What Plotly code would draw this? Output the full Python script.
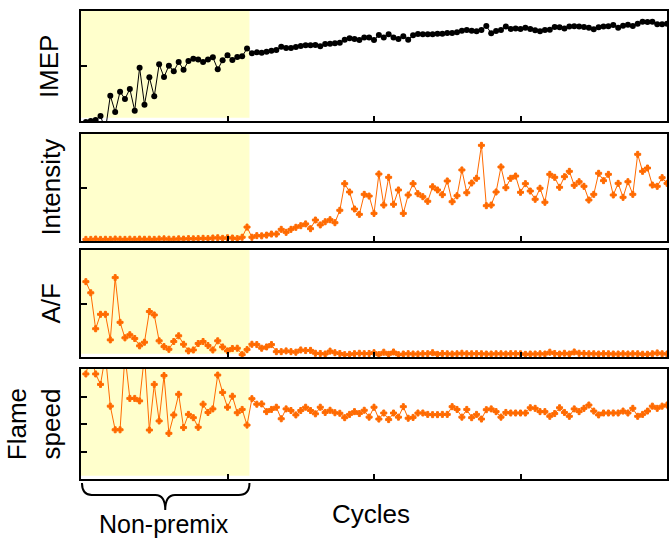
import plotly.graph_objects as go

# ---------------- data ----------------
cycles = list(range(1, 121))
nonpremix_end = 34.5
x_ticks = [30, 60, 90]

imep = [-0.1, 0.0, 0.1, 0.45, -0.8,
        2.30, 0.82, 2.67, 2.0, 2.91, 0.94, 4.85, 1.48, 3.97, 2.24, 5.15, 4.0, 5.03, 4.52, 5.36,
        4.67, 5.45, 5.67, 5.6, 5.36, 5.6, 5.79, 4.7, 5.52, 5.97, 5.55, 5.82, 5.88, 6.58,
        6.15, 6.24, 6.21, 6.3, 6.39, 6.45, 6.76, 6.64, 6.64, 6.73, 6.82, 6.88, 6.88, 6.9, 6.79,
        7.0, 7.03, 7.06, 7.12, 7.39, 7.52, 7.45, 7.36, 7.58, 7.58, 7.36, 7.82, 7.58, 7.88, 7.58,
        7.45, 7.7, 7.39, 7.79, 7.91, 7.88, 7.88, 7.88, 7.94, 7.94, 8.0, 8.0, 8.06, 8.21,
        8.27, 8.21, 8.15, 8.27, 8.64, 7.97, 8.18, 8.27, 8.58, 8.36, 8.42, 8.36, 8.48, 8.36,
        8.24, 8.15, 8.27, 8.3, 8.55, 8.52, 8.42, 8.58, 8.61, 8.58, 8.55, 8.48, 8.33, 8.52,
        8.58, 8.61, 8.73, 8.48, 8.67, 8.76, 8.64, 8.85, 9.03, 8.99, 9.03, 8.79, 8.79, 8.85]

intensity = [0.15, 0.15, 0.18, 0.15, 0.16, 0.15, 0.18, 0.16, 0.15, 0.17, 0.15, 0.18, 0.16, 0.17,
             0.15, 0.18, 0.2, 0.17, 0.16, 0.2, 0.18, 0.22, 0.2, 0.22, 0.25, 0.22, 0.28, 0.3, 0.25,
             0.3, 0.28, 0.22, 0.35, 1.3,
             0.35, 0.5, 0.48, 0.55, 0.65, 0.65, 1.09, 0.81, 1.09, 1.28, 1.43, 1.6, 1.15, 1.96, 1.5, 1.8,
             1.99, 1.71, 2.87, 5.36, 4.58, 2.99, 2.49, 4.36, 4.2, 2.58, 6.26, 3.36, 5.95, 3.43, 4.77,
             2.58, 4.3, 5.36, 4.42, 4.14, 3.71, 5.07, 4.77, 4.33, 5.61, 3.67, 4.23, 6.64, 4.51, 5.42,
             5.86, 8.94, 3.3, 3.36, 4.58, 6.92, 4.98, 5.86, 6.07, 4.55, 5.36, 4.67, 3.9, 4.93, 3.62,
             6.23, 5.95, 5.02, 6.01, 6.51, 5.2, 5.54, 5.11, 3.83, 4.36, 6.33, 5.64, 6.23, 4.3, 5.39,
             4.08, 5.54, 4.36, 8.1, 6.51, 6.82, 5.23, 5.11, 5.92, 5.39]

air_fuel = [7.04, 6.0, 2.64, 3.99, 3.99, 1.6, 7.42, 3.24, 1.79, 2.08, 1.73, 1.04, 1.38, 4.25, 3.93,
            1.51, 0.97, 0.72, 1.45, 1.98, 1.19, 0.57, 0.66, 1.26, 1.45, 1.07, 0.66, 1.51, 0.94, 0.57,
            0.79, 0.82, 0.22, 0.69, 1.19, 1.16, 0.82, 0.94, 1.16, 0.5, 0.5, 0.57, 0.5, 0.45, 0.66,
            0.6, 0.62, 0.35, 0.33, 0.28, 0.55, 0.4,
            0.33, 0.22, 0.25, 0.31, 0.35, 0.31, 0.33, 0.4, 0.22, 0.45,
            0.25, 0.47, 0.22, 0.28, 0.31, 0.28, 0.28, 0.31, 0.31, 0.4,
            0.25, 0.33, 0.3, 0.28, 0.3, 0.35, 0.3, 0.3, 0.31, 0.3,
            0.28, 0.28, 0.3, 0.3, 0.28, 0.31, 0.3, 0.3, 0.25, 0.28,
            0.28, 0.3, 0.28, 0.45, 0.33, 0.28, 0.35, 0.28, 0.47, 0.35,
            0.33, 0.3, 0.3, 0.28, 0.31, 0.3, 0.28, 0.28, 0.3, 0.28,
            0.3, 0.3, 0.26, 0.26, 0.3, 0.38, 0.3, 0.28]

flame_speed = [3.82, 4.5, 3.82, 3.44, 4.5, 2.65, 1.79, 1.79, 4.5, 2.93, 2.93, 2.84, 4.5, 1.78, 3.44,
               2.11, 3.76, 1.66, 2.33, 3.08, 1.87, 2.35, 2.23, 1.88, 2.72, 2.42, 2.55, 3.78, 3.15,
               2.61, 3.01, 2.41, 2.53, 1.96, 2.92, 2.72, 2.73, 2.45, 2.53, 2.61, 2.19, 2.55, 2.49,
               2.33, 2.49, 2.61, 2.49, 2.37, 2.61, 2.42, 2.5, 2.41,
               2.39, 2.23, 2.35, 2.45, 2.38, 2.5, 2.25, 2.61, 2.18, 2.4, 2.16, 2.4, 2.25, 2.63,
               2.21, 2.24, 2.4, 2.4, 2.35, 2.34, 2.34, 2.35, 2.35, 2.63, 2.53, 2.25, 2.53, 2.23,
               2.35, 2.18, 2.52, 2.55, 2.45, 2.25, 2.42, 2.4, 2.4, 2.4, 2.4, 2.59, 2.57, 2.45,
               2.45, 2.28, 2.38, 2.59, 2.42, 2.28, 2.55, 2.45, 2.57, 2.69, 2.47, 2.33, 2.4, 2.4,
               2.4, 2.4, 2.47, 2.4, 2.57, 2.28, 2.35, 2.47, 2.65, 2.57, 2.65, 2.69]

labels = ["IMEP", "Intensity", "A/F", "Flame<br>speed"]

# ---------------- layout geometry ----------------
W, H = 670, 541
ML, MR, MT, MB = 81, 1, 11, 62
plot_h = H - MT - MB

def py(p):  # pixel y -> paper y
    return (H - MB - p) / plot_h

panels_px = [(11, 121), (134, 241), (250, 357), (369, 479)]
domains = [[py(b), py(t)] for t, b in panels_px]

BLACK = "#000000"
ORANGE = "#FF6A00"
YELLOW = "#FFFFCC"
FONT = "Liberation Sans, Arial, sans-serif"
FS = 26

series = [imep, intensity, air_fuel, flame_speed]
yranges = [[0, 10], [0, 10], [0, 10], [0, 4]]
yticks = [[5], [5], [5], [1, 2, 3]]
colors = [BLACK, ORANGE, ORANGE, ORANGE]
symbols = ["circle", "cross", "cross", "cross"]
msizes = [6, 5, 5, 5]
mlines = [0, 1, 1, 1]

fig = go.Figure()
for i in range(4):
    xa = "x" if i == 0 else f"x{i+1}"
    ya = "y" if i == 0 else f"y{i+1}"
    fig.add_trace(go.Scatter(
        x=cycles, y=series[i], xaxis=xa, yaxis=ya, mode="lines+markers",
        line=dict(color=colors[i], width=1),
        marker=dict(color=colors[i], size=msizes[i], symbol=symbols[i],
                    line=dict(width=mlines[i], color=colors[i])),
        showlegend=False, hoverinfo="skip"))

layout = dict(width=W, height=H, margin=dict(l=ML, r=MR, t=MT, b=MB),
              paper_bgcolor="white", plot_bgcolor="white",
              font=dict(family=FONT, color=BLACK), showlegend=False)

for i in range(4):
    xk = "xaxis" if i == 0 else f"xaxis{i+1}"
    yk = "yaxis" if i == 0 else f"yaxis{i+1}"
    ya = "y" if i == 0 else f"y{i+1}"
    xa = "x" if i == 0 else f"x{i+1}"
    layout[xk] = dict(domain=[0, 1], anchor=ya, range=[0, 120], showgrid=False, zeroline=False,
                      showline=True, linecolor=BLACK, linewidth=2, mirror=True,
                      ticks="inside", ticklen=5, tickwidth=1.5, tickcolor=BLACK,
                      tickvals=x_ticks, showticklabels=False, fixedrange=True)
    layout[yk] = dict(domain=domains[i], anchor=xa, range=yranges[i], showgrid=False, zeroline=False,
                      showline=True, linecolor=BLACK, linewidth=2, mirror=True,
                      ticks="inside", ticklen=6, tickwidth=1.5, tickcolor=BLACK,
                      tickvals=yticks[i], showticklabels=False, fixedrange=True)

fig.update_layout(**layout)

shapes = []
for i in range(4):
    xa = "x" if i == 0 else f"x{i+1}"
    ya = "y" if i == 0 else f"y{i+1}"
    shapes.append(dict(type="rect", xref=xa, yref=f"{ya} domain", x0=0, x1=nonpremix_end,
                       y0=0.03, y1=1, fillcolor=YELLOW, line=dict(width=0), layer="below"))

# brace under the non-premix region (x in data units, y in paper units)
e = nonpremix_end
m = e / 2
def P(x, ypx):
    return f"{x:.3f},{py(ypx):.5f}"
brace = (f"M {P(0.2, 483)} Q {P(0.2, 495)} {P(2.2, 495)} L {P(m - 2.0, 495)} "
         f"Q {P(m, 495)} {P(m, 510)} Q {P(m, 495)} {P(m + 2.0, 495)} "
         f"L {P(e - 2.2, 495)} Q {P(e, 495)} {P(e, 483)}")
shapes.append(dict(type="path", xref="x4", yref="paper", path=brace,
                   line=dict(color=BLACK, width=2)))
fig.update_layout(shapes=shapes)

ann = []
label_x_px = [49, 50, 50, 34]
for i, lab in enumerate(labels):
    t, b = panels_px[i]
    ann.append(dict(text=lab, xref="paper", yref="paper",
                    x=(label_x_px[i] - ML) / (W - ML - MR), y=py((t + b) / 2),
                    xanchor="center", yanchor="middle", textangle=-90, showarrow=False,
                    font=dict(size=FS, family=FONT, color=BLACK)))
ann.append(dict(text="Cycles", xref="paper", yref="paper", x=(372 - ML) / (W - ML - MR), y=py(514),
                xanchor="center", yanchor="middle", showarrow=False,
                font=dict(size=FS, family=FONT, color=BLACK)))
ann.append(dict(text="Non-premix", xref="paper", yref="paper", x=(164 - ML) / (W - ML - MR), y=py(524),
                xanchor="center", yanchor="middle", showarrow=False,
                font=dict(size=25, family=FONT, color=BLACK)))
fig.update_layout(annotations=ann)

fig.write_html("out.html", config={"displayModeBar": False})
